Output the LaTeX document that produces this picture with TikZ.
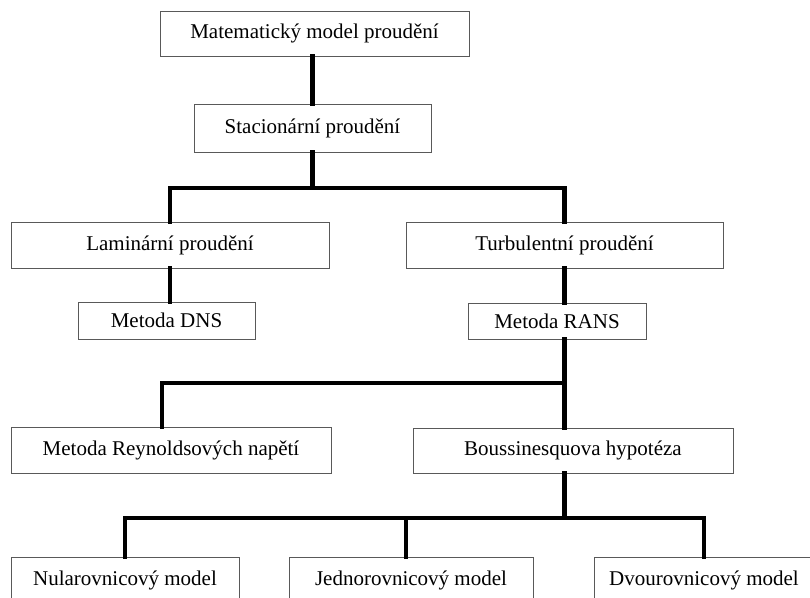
\documentclass[tikz,border=0pt]{standalone}
\usepackage{fontspec}
\setmainfont{Liberation Serif}
\usepackage{tikz}

\begin{document}
\begin{tikzpicture}[x=1pt, y=-1pt,
    box/.style={draw=black!65, line width=0.9pt, fill=white, inner sep=0pt,
      minimum height=46pt, font=\fontsize{21}{24}\selectfont},
    link/.style={line width=4.3pt, line join=miter, line cap=rect}]
        \clip (0,0) rectangle (810,597);
        \fill[white] (0,0) rectangle (810,597);

        \node [box, minimum width=309pt, minimum height=45pt] (1) at (314.5,33.5) {Matematický model proudění};
        \node [box, minimum width=237pt, minimum height=48pt] (2) at (312.5,128) {Stacionární proudění};
        \node [box, minimum width=318pt] (3) at (170,245) {Laminární proudění};
        \node [box, minimum width=317pt] (4) at (564.5,245) {Turbulentní proudění};
        \node [box, minimum width=177pt, minimum height=37pt] (5) at (166.5,320.5) {Metoda DNS};
        \node [box, minimum width=178pt, minimum height=36pt] (6) at (557,321) {Metoda RANS};
        \node [box, minimum width=320pt] (7) at (171,450) {Metoda Reynoldsových napětí};
        \node [box, minimum width=320pt, minimum height=45pt] (8) at (573,450.5) {Boussinesquova hypotéza};
        \node [box, minimum width=228pt] (9) at (125,580) {Nularovnicový model};
        \node [box, minimum width=244pt] (10) at (411,580) {Jednorovnicový model};
        \node [box, minimum width=220pt] (11) at (704,580) {Dvourovnicový model};

        \coordinate (r1) at (0,188);
        \coordinate (r2) at (0,383);
        \coordinate (r3) at (0,518);

        \draw[link] (2.north) -- (2.north |- 1.south);
        \draw[link] (2.south) -- (2.south |- r1);
        \draw[link] (3.north) |- (r1 -| 4) -- (4.north);
        \draw[link] (3.south) -- (3.south |- 5.north);
        \draw[link] (4.south) -- (4.south |- 6.north);
        \draw[link] (4 |- 6.south) -- (4 |- 8.north);
        \draw[link] ([xshift=-9pt]7.north) |- (4 |- r2);
        \draw[link] (4 |- 8.south) -- (4 |- r3);
        \draw[link] (9.north) |- (r3 -| 11) -- (11.north);
        \draw[link] ([xshift=-5pt]10.north) -- ([xshift=-5pt]10.north |- r3);
      \end{tikzpicture}
\end{document}
